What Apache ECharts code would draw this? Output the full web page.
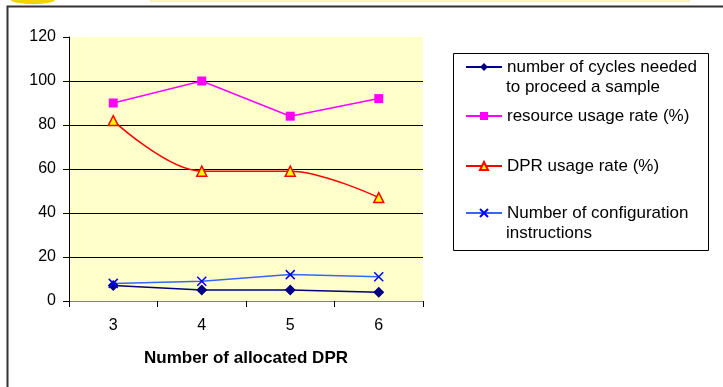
<!DOCTYPE html>
<html>
<head>
<meta charset="utf-8">
<script src="https://cdn.jsdelivr.net/npm/echarts@6/dist/echarts.min.js"></script>
<style>
html,body{margin:0;padding:0;background:#fff;}
#c{width:723px;height:387px;}
</style>
</head>
<body>
<div id="c"></div>
<script>
const categories = ['3', '4', '5', '6'];
const yTicks = [0, 20, 40, 60, 80, 100, 120];
const seriesNames = [
  'number of cycles needed to proceed a sample',
  'resource usage rate (%)',
  'DPR usage rate (%)',
  'Number of configuration instructions'
];
const legendFirstLines = ['number of cycles needed', 'resource usage rate (%)', 'DPR usage rate (%)', 'Number of configuration'];
const legendSecondLines = ['to proceed a sample', '', '', 'instructions'];
const cycles = [7, 5, 5, 4];
const resourceRate = [90, 100, 84, 92];
const dprRate = [82, 59, 59, 47];
const configInstr = [8, 9, 12, 11];
const xAxisTitle = 'Number of allocated DPR';

const FONT = '"Liberation Sans", Arial, sans-serif';
const chart = echarts.init(document.getElementById('c'), null, {renderer: 'canvas'});

const crossPath = 'path://M0,0L10,10M10,0L0,10';

const legendTops = [57, 106, 156, 203];
const legends = seriesNames.map((n, i) => ({
  data: [n],
  left: 465,
  top: legendTops[i],
  padding: 0,
  itemWidth: 36,
  itemHeight: 10,
  itemGap: 0,
  selectedMode: false,
  formatter: () => legendFirstLines[i],
  textStyle: {fontFamily: FONT, fontSize: 17, color: '#000', lineHeight: 20}
}));

const option = {
  backgroundColor: '#fff',
  animation: false,
  legend: legends,
  grid: {
    left: 69, right: 300, top: 37, bottom: 86,
    show: true, backgroundColor: '#FFFFCC', borderWidth: 0
  },
  xAxis: {
    type: 'category',
    data: categories,
    boundaryGap: true,
    axisLine: {show: true, lineStyle: {color: '#808080', width: 1}},
    axisTick: {show: true, length: 6, lineStyle: {color: '#000'}},
    axisLabel: {margin: 17, fontFamily: FONT, fontSize: 16, color: '#000'},
    name: xAxisTitle,
    nameLocation: 'middle',
    nameGap: 49,
    nameTextStyle: {fontFamily: FONT, fontSize: 17, fontWeight: 'bold', color: '#000'}
  },
  yAxis: {
    type: 'value',
    min: yTicks[0],
    max: yTicks[yTicks.length - 1],
    interval: yTicks[1] - yTicks[0],
    axisLine: {show: true, lineStyle: {color: '#000', width: 1}},
    axisTick: {show: true, length: 6, lineStyle: {color: '#000'}},
    axisLabel: {margin: 13, fontFamily: FONT, fontSize: 16, color: '#000'},
    splitLine: {show: true, lineStyle: {color: ['rgba(0,0,0,0)', '#000', '#000', '#000', '#000', '#000', 'rgba(0,0,0,0)'], width: 1}}
  },
  series: [
    {
      name: seriesNames[0], type: 'line', data: cycles,
      symbol: 'diamond', symbolSize: 11,
      lineStyle: {color: '#000080', width: 1.5},
      itemStyle: {color: '#000080'}
    },
    {
      name: seriesNames[1], type: 'line', data: resourceRate,
      symbol: 'rect', symbolSize: 9,
      lineStyle: {color: '#FF00FF', width: 1.5},
      itemStyle: {color: '#FF00FF'}
    },
    {
      name: seriesNames[2], type: 'line', data: dprRate,
      smooth: 0.35,
      symbol: 'triangle', symbolSize: 10,
      lineStyle: {color: '#FF0000', width: 1.5},
      itemStyle: {color: '#FFFF00', borderColor: '#FF0000', borderWidth: 1.5}
    },
    {
      name: seriesNames[3], type: 'line', data: configInstr,
      symbol: crossPath, symbolSize: 9,
      lineStyle: {color: '#3366FF', width: 1.5},
      itemStyle: {color: 'rgba(0,0,0,0)', borderColor: '#0000FF', borderWidth: 1.5}
    }
  ],
  graphic: [
    {type: 'ellipse', shape: {cx: 33, cy: 0, rx: 22, ry: 4}, style: {fill: '#F2D20A'}, silent: true},
    {type: 'rect', shape: {x: 150, y: 0, width: 540, height: 2}, style: {fill: '#FBF2C0'}, silent: true},
    {type: 'rect', shape: {x: 7.5, y: 6.5, width: 760, height: 420}, style: {fill: 'none', stroke: '#333', lineWidth: 2}, silent: true},
    {type: 'rect', shape: {x: 453.5, y: 53.5, width: 255, height: 197}, style: {fill: 'none', stroke: '#000', lineWidth: 1}, silent: true},
    {type: 'text', left: 506, top: 79, style: {text: legendSecondLines[0], font: '17px ' + FONT, fill: '#000'}, silent: true},
    {type: 'text', left: 506, top: 225, style: {text: legendSecondLines[3], font: '17px ' + FONT, fill: '#000'}, silent: true}
  ]
};
chart.setOption(option);
</script>
</body>
</html>
